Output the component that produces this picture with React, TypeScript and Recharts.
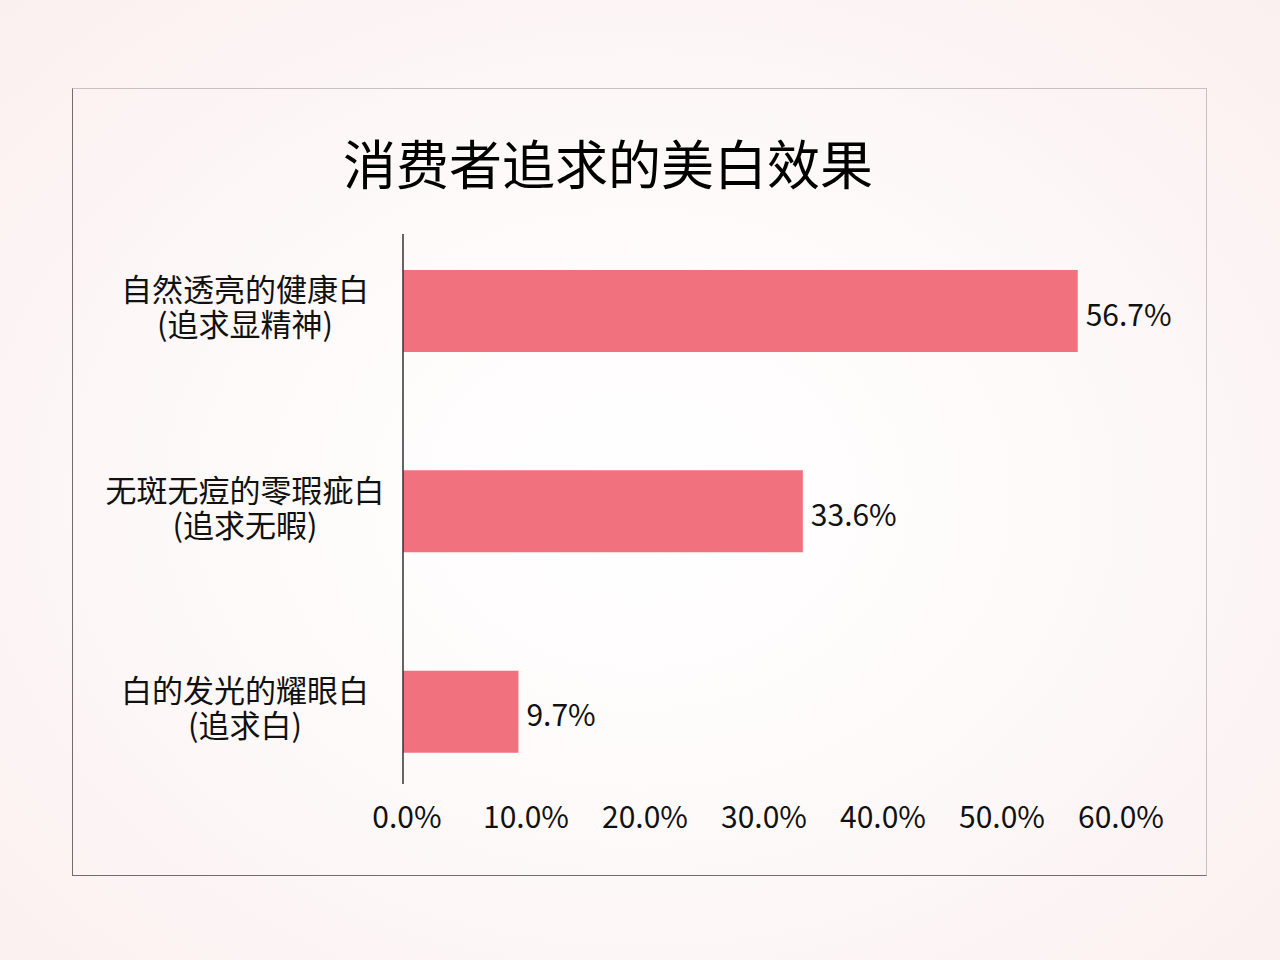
import { Bar, BarChart, LabelList, XAxis, YAxis } from 'recharts'

// 消费者追求的美白效果 — 占比(%)
const categories = ['自然透亮的健康白', '无斑无痘的零瑕疵白', '白的发光的耀眼白']
const subtitles = ['(追求显精神)', '(追求无暇)', '(追求白)']
const shares = [56.7, 33.6, 9.7]
const xTicks = [0, 10, 20, 30, 40, 50, 60]

const data = categories.map((name, i) => ({ name, sub: subtitles[i], value: shares[i] }))

const FONT = '"Noto Sans CJK SC", "Noto Sans", sans-serif'
const BAR = '#F2717F'

function CategoryTick({ x, y, payload }: any) {
  const sub = subtitles[payload.index] ?? ''
  const cx = x - 158
  return (
    <text x={cx} y={y} textAnchor="middle" fontSize={31} fill="#111" fontFamily={FONT}>
      <tspan x={cx} dy={-10}>{payload.value}</tspan>
      <tspan x={cx} dy={35}>{sub}</tspan>
    </text>
  )
}

// 刻度文字放在轴线下方约 33px 处
function PercentTick({ x, y, payload }: any) {
  return (
    <text x={x + 4} y={y + 44} textAnchor="middle" fontSize={30} fill="#111" fontFamily={FONT}>
      {`${Number(payload.value).toFixed(1)}%`}
    </text>
  )
}

export default function App() {
  return (
    <div
      style={{
        position: 'absolute',
        left: 0,
        top: 0,
        width: 1280,
        height: 960,
        overflow: 'hidden',
        fontFamily: FONT,
        background: 'radial-gradient(ellipse at 50% 52%, #ffffff 0%, #fefafa 45%, #fcf3f3 80%, #fbf0f0 100%)',
      }}
    >
      <div
        style={{
          position: 'absolute',
          left: 72,
          top: 88,
          width: 1133,
          height: 786,
          borderTop: '1px solid #c9c1c1',
          borderRight: '1px solid #c9c1c1',
          borderLeft: '1px solid #746c6c',
          borderBottom: '1px solid #746c6c',
        }}
      />
      <div
        style={{
          position: 'absolute',
          left: 0,
          top: 128,
          width: 1216,
          textAlign: 'center',
          fontSize: 53,
          fontWeight: 400,
          lineHeight: '68px',
          color: '#000',
        }}
      >
        消费者追求的美白效果
      </div>
      <div style={{ position: 'absolute', left: 0, top: 0 }}>
        {/* 绘图区 234–784，与轴线同长；类目带用负 padding 向外扩到 211–812 */}
        <BarChart
          width={1280}
          height={960}
          data={data}
          layout="vertical"
          margin={{ top: 234, right: 163, bottom: 126, left: 0 }}
          barCategoryGap={0}
        >
          <XAxis
            type="number"
            domain={[0, 60]}
            ticks={xTicks}
            height={50}
            axisLine={false}
            tickLine={false}
            tickSize={0}
            tickMargin={0}
            tick={<PercentTick />}
            interval={0}
          />
          <YAxis
            type="category"
            dataKey="name"
            width={403}
            padding={{ top: -23, bottom: -28 }}
            axisLine={{ stroke: '#333', strokeWidth: 1.5 }}
            tickLine={false}
            tickSize={0}
            tickMargin={0}
            tick={<CategoryTick />}
            interval={0}
          />
          <Bar dataKey="value" fill={BAR} barSize={82} isAnimationActive={false}>
            <LabelList
              dataKey="value"
              position="right"
              offset={8}
              dy={4}
              formatter={(v: any) => `${Number(v).toFixed(1)}%`}
              fontSize={30}
              fill="#111"
              fontFamily={FONT}
            />
          </Bar>
        </BarChart>
      </div>
    </div>
  )
}
